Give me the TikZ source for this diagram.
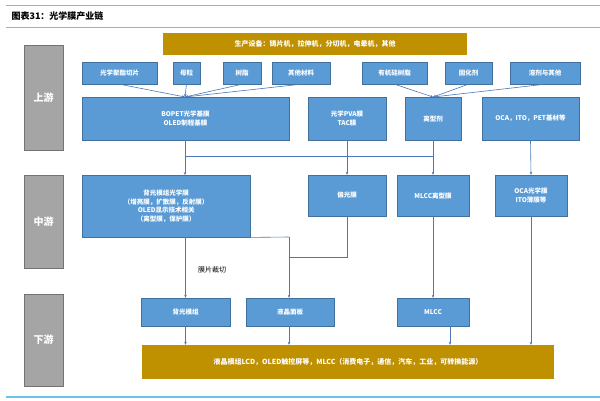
\documentclass[tikz,border=0pt]{standalone}
\usepackage{fontspec}
\setmainfont{Noto Sans CJK SC}
\usetikzlibrary{arrows.meta}
\definecolor{bx}{HTML}{5B9BD5}
\definecolor{bxd}{HTML}{41719C}
\definecolor{gd}{HTML}{BF9000}
\definecolor{gy}{HTML}{A5A5A5}
\definecolor{ln}{HTML}{4A78B8}
\definecolor{tl}{HTML}{6CC3E8}
\begin{document}
\begin{tikzpicture}[x=1pt,y=-1pt,
 bb/.style={draw=bxd,fill=bx,text=white,font=\fontsize{6.5}{8.5}\selectfont\bfseries,align=center,inner sep=0},
 gb/.style={fill=gd,text=white,font=\fontsize{7}{9}\selectfont\bfseries,inner sep=0},
 sb/.style={draw=gy!70!black,fill=gy,text=white,font=\fontsize{10}{12}\selectfont\bfseries,inner sep=0},
 ar/.style={draw=ln,line width=0.6pt,-{Stealth[length=3pt,width=2.5pt]}},
 li/.style={draw=ln,line width=0.6pt}]
\useasboundingbox (0,0) rectangle (600,400);
\fill[white] (0,0) rectangle (600,400);
\draw[tl,line width=1pt] (6,5) -- (600,5);
\draw[tl,line width=1pt] (6,27) -- (600,27);
\draw[tl,line width=1.2pt] (6,397) -- (600,397);
\node[anchor=west,font=\fontsize{9}{11}\selectfont\bfseries\itshape] (title) at (8,16) {图表31：光学膜产业链};
% side
\node[sb,minimum width=39,minimum height=105] (up) at (43.5,97.5) {上游};
\node[sb,minimum width=39,minimum height=93] (mid) at (43.5,221.5) {中游};
\node[sb,minimum width=39,minimum height=92] (down) at (43.5,340) {下游};
% gold
\node[gb,minimum width=304,minimum height=22] (eq) at (315,44) {生产设备：铸片机，拉伸机，分切机，电晕机，其他};
\node[gb,minimum width=412,minimum height=34] (app) at (348,362) {液晶模组LCD，OLED触控屏等，MLCC（消费电子，通信，汽车，工业，可转换能源）};
% raw
\node[bb,minimum width=75,minimum height=22] (r1) at (119.5,73) {光学聚酯切片};
\node[bb,minimum width=27,minimum height=22] (r2) at (186.5,73) {母粒};
\node[bb,minimum width=38,minimum height=22] (r3) at (242,73) {树脂};
\node[bb,minimum width=58,minimum height=22] (r4) at (301,73) {其他材料};
\node[bb,minimum width=65,minimum height=22] (r5) at (394.5,73) {有机硅树脂};
\node[bb,minimum width=47,minimum height=22] (r6) at (468.5,73) {固化剂};
\node[bb,minimum width=70,minimum height=22] (r7) at (545,73) {溶剂与其他};
% upstream products
\node[bb,minimum width=207,minimum height=43] (u1) at (185.5,118.5) {BOPET光学基膜\\OLED制程基膜};
\node[bb,minimum width=78,minimum height=43] (u2) at (347,118.5) {光学PVA膜\\TAC膜};
\node[bb,minimum width=56,minimum height=43] (u3) at (433,118.5) {离型剂};
\node[bb,minimum width=97,minimum height=43] (u4) at (530.5,118.5) {OCA，ITO，PET基材等};
% midstream
\node[bb,minimum width=168,minimum height=62,anchor=north west] (m1) at (82,175) {背光模组光学膜\\（增亮膜，扩散膜，反射膜）\\OLED显示技术相关\\（离型膜，保护膜）};
\node[bb,minimum width=78,minimum height=41] (m2) at (347,195.5) {偏光膜};
\node[bb,minimum width=72,minimum height=41] (m3) at (433,195.5) {MLCC离型膜};
\node[bb,minimum width=72,minimum height=41] (m4) at (531,195.5) {OCA光学膜\\ITO薄膜等};
% downstream
\node[bb,minimum width=89,minimum height=28] (d1) at (185.5,312) {背光模组};
\node[bb,minimum width=88,minimum height=28] (d2) at (290,312) {液晶面板};
\node[bb,minimum width=72,minimum height=28] (d3) at (433,312) {MLCC};
\node[font=\fontsize{7}{9}\selectfont] (cut) at (212,270) {膜片裁切};
% converge
\coordinate (c1) at (185,97);
\coordinate (c2) at (433,97);
\foreach \n in {r1,r2,r3,r4} \draw[ar] (\n.south) -- (c1);
\foreach \n in {r5,r6,r7} \draw[ar] (\n.south) -- (c2);
% bus
\coordinate (b1) at (185,156);
\coordinate (b3) at (433,156);
\draw[li] (u1.south -| b1) -- (b1) -- (b3);
\draw[ar] (b1) -- (m1.north -| b1);
\draw[ar] (u3.south) -- (m3.north);
\draw[ar] (u2.south) -- (m2.north);
\draw[ar] (u4.south) -- (m4.north);
% mid to down
\draw[ar] (m1.south -| d1) -- (d1.north);
\coordinate (k1) at (289,237);
\coordinate (k2) at (289,257);
\draw[li] (m1.south east) -- (k1);
\draw[ar] (k1) -- (d2.north -| k1);
\draw[li] (m2.south) |- (k2);
\draw[ar] (m3.south) -- (d3.north);
\draw[ar] (m4.south) -- (app.north -| m4.south);
\draw[ar] (d1.south) -- (app.north -| d1.south);
\draw[ar] (d2.south -| k1) -- (app.north -| k1);
\coordinate (k3) at (450,326);
\draw[ar] (k3) -- (app.north -| k3);
\end{tikzpicture}
\end{document}
